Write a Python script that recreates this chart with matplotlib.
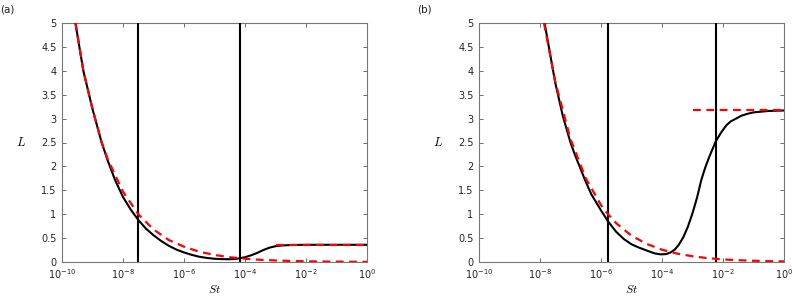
import numpy as np
import matplotlib
matplotlib.use("Agg")
import matplotlib.pyplot as plt

plt.rcParams['mathtext.fontset'] = 'dejavusans'
plt.rcParams['font.family'] = ['DejaVu Sans']
plt.rcParams['axes.unicode_minus'] = False

# ---------- Panel (a) ----------
a_red_logst = [-9.56, -9.3, -9.0, -8.7, -8.5, -8.0, -7.5, -7.0, -6.5, -6.0, -5.5, -5.0,
               -4.5, -4.0, -3.5, -3.0, -2.5, -2.0, -1.5, -1.0, -0.5, 0.0]
a_red_L = [5.0, 4.0, 3.2, 2.5, 2.15, 1.47, 1.0, 0.68, 0.46, 0.32, 0.215, 0.147,
           0.10, 0.068, 0.046, 0.032, 0.022, 0.015, 0.010, 0.007, 0.005, 0.003]
a_plateau_logst = [-3.0, 0.0]
a_plateau_L = [0.35, 0.35]
a_black_logst = [-9.56, -9.3, -9.0, -8.7, -8.5, -8.25, -8.0, -7.75, -7.5, -7.25, -7.0,
                 -6.75, -6.5, -6.25, -6.0, -5.75, -5.5, -5.25, -5.0, -4.75, -4.5,
                 -4.3, -4.16, -4.0, -3.8, -3.6, -3.4, -3.2, -3.0, -2.8, -2.5, -2.0, -1.0, 0.0]
a_black_L = [5.0, 4.0, 3.2, 2.5, 2.12, 1.7, 1.36, 1.1, 0.88, 0.7, 0.56,
             0.44, 0.34, 0.26, 0.2, 0.15, 0.11, 0.085, 0.068, 0.06, 0.058,
             0.065, 0.08, 0.1, 0.14, 0.19, 0.25, 0.3, 0.33, 0.345, 0.355, 0.36, 0.36, 0.36]
a_vlines = [3.1e-8, 7.0e-5]

# ---------- Panel (b) ----------
b_red_logst = [-7.87, -7.5, -7.0, -6.5, -6.0, -5.77, -5.5, -5.0, -4.5, -4.0, -3.5, -3.0,
               -2.5, -2.0, -1.5, -1.0, -0.5, 0.0]
b_red_L = [5.0, 3.77, 2.57, 1.75, 1.19, 1.0, 0.81, 0.55, 0.377, 0.257, 0.175, 0.12,
           0.08, 0.055, 0.037, 0.026, 0.017, 0.012]
b_plateau_logst = [-3.0, 0.0]
b_plateau_L = [3.18, 3.18]
b_black_logst = [-7.85, -7.5, -7.25, -7.0, -6.86, -6.5, -6.32, -6.0, -5.77, -5.5, -5.25,
                 -5.0, -4.75, -4.5, -4.24, -4.05, -3.86, -3.72, -3.58, -3.45, -3.3,
                 -3.15, -3.0, -2.85, -2.71, -2.58, -2.45, -2.24, -2.05, -1.89, -1.75,
                 -1.6, -1.4, -1.2, -1.0, -0.5, 0.0]
b_black_L = [5.0, 3.75, 3.05, 2.5, 2.25, 1.68, 1.42, 1.08, 0.85, 0.63, 0.48,
             0.37, 0.3, 0.24, 0.18, 0.16, 0.165, 0.2, 0.26, 0.36, 0.52,
             0.74, 1.02, 1.35, 1.72, 1.98, 2.2, 2.52, 2.72, 2.86, 2.94,
             2.99, 3.06, 3.1, 3.13, 3.16, 3.17]
b_vlines = [1.7e-6, 6.0e-3]

xticks = [1e-10, 1e-8, 1e-6, 1e-4, 1e-2, 1e0]
xticklabels = [r'$10^{-10}$', r'$10^{-8}$', r'$10^{-6}$', r'$10^{-4}$', r'$10^{-2}$', r'$10^{0}$']
yticks = [0, 0.5, 1, 1.5, 2, 2.5, 3, 3.5, 4, 4.5, 5]
yticklabels = ['0', '0.5', '1', '1.5', '2', '2.5', '3', '3.5', '4', '4.5', '5']

W, H = 792, 297
fig = plt.figure(figsize=(W / 100, H / 100), dpi=100)

panels = [
    (62, 367, a_red_logst, a_red_L, a_plateau_logst, a_plateau_L, a_black_logst, a_black_L, a_vlines, '(a)', 0),
    (479, 784, b_red_logst, b_red_L, b_plateau_logst, b_plateau_L, b_black_logst, b_black_L, b_vlines, '(b)', 417),
]

for (x0, x1, rl, rL, pl, pL, bl, bL, vl, lab, lx) in panels:
    ax = fig.add_axes([x0 / W, 1 - 262 / H, (x1 - x0) / W, (262 - 23) / H])
    ax.set_xscale('log')
    ax.set_xlim(1e-10, 1)
    ax.set_ylim(0, 5)
    ax.plot(10 ** np.array(bl), bL, color='black', lw=1.5, zorder=3)
    ax.plot(10 ** np.array(rl), rL, color='#ff0000', lw=1.6, ls=(0, (3.5, 2.5)), zorder=4)
    ax.plot(10 ** np.array(pl), pL, color='#ff0000', lw=1.6, ls=(0, (3.5, 2.5)), zorder=4)
    for v in vl:
        ax.plot([v, v], [0, 5], color='black', lw=1.5, zorder=3)
    ax.set_xticks(xticks)
    ax.set_xticklabels(xticklabels)
    ax.set_yticks(yticks)
    ax.set_yticklabels(yticklabels)
    ax.tick_params(axis='both', which='both', direction='in', top=True, right=True,
                   labelsize=7, colors='#555555', labelcolor='#222222')
    ax.tick_params(axis='x', pad=4)
    ax.tick_params(axis='y', pad=4)
    ax.tick_params(which='major', length=3, width=0.6)
    ax.tick_params(which='minor', length=1.8, width=0.5, colors='#999999')
    for s in ax.spines.values():
        s.set_color('#777777')
        s.set_linewidth(0.8)
    ax.set_xlabel(r'$St$', fontsize=8.5, labelpad=1, math_fontfamily='cm')
    ax.set_ylabel(r'$L$', fontsize=9, rotation=0, labelpad=14, va='center', math_fontfamily='cm')
    fig.text(lx / W, 1 - 9 / H, lab, fontsize=7.5, va='center', ha='left', color='#222222')

fig.savefig('out.png', dpi=100)
